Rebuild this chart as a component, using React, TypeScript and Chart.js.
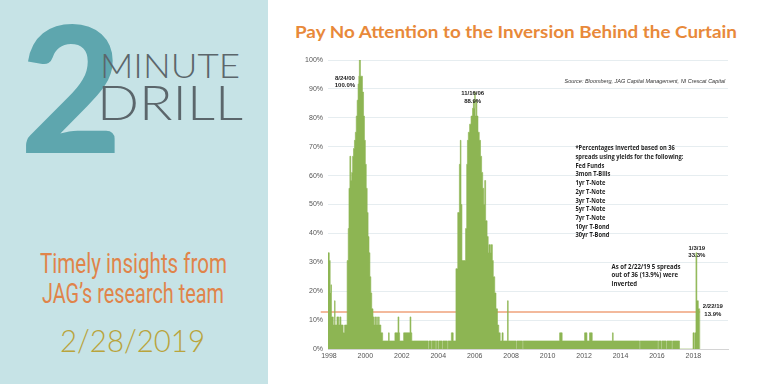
import React, { useEffect, useRef } from "react";
import { Chart, registerables } from "chart.js";

Chart.register(...registerables);

// ---- data (x in the chart's axis-year units, y in % of spreads inverted) ----
const stepYears = [
  1997.95, 1998.02, 1998.07, 1998.11, 1998.14, 1998.24, 1998.31, 1998.34, 1998.44, 1998.54, 1998.6, 1998.66, 1998.78, 1998.86,
  1999.0, 1999.06, 1999.1, 1999.15, 1999.2, 1999.25, 1999.3, 1999.35, 1999.4, 1999.45, 1999.5, 1999.55, 1999.6, 1999.64, 1999.67, 1999.73, 1999.78, 1999.84, 1999.9, 1999.95,
  2000.0, 2000.05, 2000.1, 2000.15, 2000.2, 2000.25, 2000.3, 2000.35, 2000.42, 2000.47, 2000.52, 2000.57, 2000.62, 2000.66, 2000.72, 2000.76, 2000.85, 2000.95,
  2001.27, 2001.31, 2001.62, 2001.79, 2001.84, 2001.88, 2002.1, 2002.45, 2002.5, 2002.55, 2002.65,
  2003.44, 2003.48, 2003.62, 2003.66, 2003.86, 2003.9, 2004.0, 2004.04, 2004.22, 2004.26, 2004.5, 2004.54, 2004.72, 2004.82,
  2004.97, 2005.07, 2005.16, 2005.21, 2005.25, 2005.3, 2005.4, 2005.5, 2005.56, 2005.6, 2005.65, 2005.72, 2005.8, 2005.88, 2005.93, 2005.96,
  2006.0, 2006.03, 2006.08, 2006.12, 2006.18, 2006.25, 2006.32, 2006.38, 2006.44, 2006.5, 2006.55, 2006.6, 2006.68, 2006.74, 2006.78, 2006.86, 2006.9, 2006.97,
  2007.02, 2007.1, 2007.17, 2007.25, 2007.32, 2007.4, 2007.5, 2007.56, 2007.8, 2007.84,
  2008.27, 2008.31, 2008.62, 2008.66, 2010.66, 2010.8, 2012.03, 2012.16, 2012.3, 2012.45, 2013.56, 2013.6,
  2015.04, 2015.08, 2016.05, 2016.09, 2016.23, 2016.27, 2016.5, 2016.54, 2016.82, 2016.86, 2017.24,
  2017.98, 2018.04, 2018.08, 2018.14, 2018.19, 2018.27, 2018.35,
];

const inversionPct = [
  33.3, 30.6, 19.4, 22.2, 11.1, 8.3, 16.7, 8.3, 11.1, 8.3, 11.1, 8.3, 5.6, 8.3,
  30.6, 41.7, 55.6, 66.7, 58.3, 61.1, 66.7, 69.4, 72.2, 75, 80.6, 86.1, 91.7, 94.4, 100, 94.4, 94.4, 88.9, 80.6, 72.2,
  63.9, 55.6, 47.2, 38.9, 33.3, 25, 19.4, 13.9, 11.1, 8.3, 11.1, 8.3, 11.1, 8.3, 11.1, 8.3, 5.6, 2.8,
  5.6, 2.8, 5.6, 11.1, 5.6, 2.8, 5.6, 11.1, 5.6, 2.8, 2.8,
  0, 2.8, 0, 2.8, 0, 2.8, 0, 2.8, 0, 2.8, 0, 2.8, 5.6, 2.8,
  27.8, 47.2, 63.9, 72.2, 50, 30.6, 30.6, 41.7, 63.9, 72.2, 75, 77.8, 80.6, 83.3, 86.1, 83.3,
  88.9, 80.6, 86.1, 80.6, 75, 72.2, 66.7, 61.1, 55.6, 50, 58.3, 44.4, 38.9, 33.3, 36.1, 33.3, 36.1, 30.6,
  25, 19.4, 13.9, 8.3, 5.6, 2.8, 5.6, 2.8, 16.7, 2.8,
  0, 2.8, 0, 2.8, 5.6, 2.8, 5.6, 2.8, 5.6, 2.8, 5.6, 2.8,
  0, 2.8, 0, 2.8, 0, 2.8, 0, 2.8, 0, 2.8, 0,
  5.6, 0, 5.6, 33.3, 16.7, 13.9, 0,
];

const tickYears = [1998, 2000, 2002, 2004, 2006, 2008, 2010, 2012, 2014, 2016, 2018];
const xRange = [1997.95, 2019.9];
const yRange = [0, 100];
const thresholdPct = 12.8;
const thresholdSpan = [1997.55, 2018.37];

const chartTitle = "Pay No Attention to the Inversion Behind the Curtain";
const sourceNote = "Source: Bloomberg, JAG Capital Management, NI Crescat Capital";
const footnoteLines = [
  "*Percentages inverted based on 36",
  "spreads using yields for the following:",
  "Fed Funds",
  "3mon T-Bills",
  "1yr T-Note",
  "2yr T-Note",
  "3yr T-Note",
  "5yr T-Note",
  "7yr T-Note",
  "10yr T-Bond",
  "30yr T-Bond",
];
const asOfLines = ["As of 2/22/19 5 spreads", "out of 36 (13.9%) were", "inverted"];
const peak2000Lines = ["8/24/00", "100.0%"];
const peak2006Lines = ["11/16/06", "88.9%"];
const spike2019Lines = ["1/3/19", "33.3%"];
const latestLines = ["2/22/19", "13.9%"];

const GREEN = "#8db553";
const RED = "#e8743b";
const SANS = "'Liberation Sans', Arial, sans-serif";

type Note = {
  x: number;
  y: number;
  lines: string[];
  font: string;
  align: CanvasTextAlign;
  lineHeight: number;
  color: string;
  fitWidth?: number;
};

const notes: Note[] = [
  { x: 1998.88, y: 93.7, lines: peak2000Lines, font: `bold 6px ${SANS}`, align: "center", lineHeight: 6.8, color: "#222" },
  { x: 2005.89, y: 88.5, lines: peak2006Lines, font: `bold 6px ${SANS}`, align: "center", lineHeight: 8.3, color: "#222" },
  { x: 2018.19, y: 35.0, lines: spike2019Lines, font: `bold 6px ${SANS}`, align: "center", lineHeight: 7.4, color: "#222" },
  { x: 2019.07, y: 14.6, lines: latestLines, font: `bold 6px ${SANS}`, align: "center", lineHeight: 7.6, color: "#222" },
  { x: 2011.53, y: 69.4, lines: footnoteLines, font: `bold 7.2px 'Open Sans', ${SANS}`, align: "left", lineHeight: 8.67, color: "#1e1e1e", fitWidth: 108 },
  { x: 2013.51, y: 28.5, lines: asOfLines, font: `bold 7.2px 'Open Sans', ${SANS}`, align: "left", lineHeight: 8.7, color: "#1e1e1e", fitWidth: 69 },
  { x: 2019.75, y: 92.7, lines: [sourceNote], font: `italic 5.5px ${SANS}`, align: "right", lineHeight: 7, color: "#333" },
];

const notesPlugin = {
  id: "textNotes",
  afterDatasetsDraw(chart: any) {
    const { ctx, scales } = chart;
    const xs = scales.x;
    const ys = scales.y;
    ctx.save();
    ctx.textBaseline = "middle";
    for (const n of notes) {
      ctx.font = n.font;
      ctx.fillStyle = n.color;
      ctx.textAlign = n.align;
      const px = xs.getPixelForValue(n.x);
      const py = ys.getPixelForValue(n.y);
      let sx = 1;
      if (n.fitWidth) {
        const widest = Math.max(...n.lines.map((l) => ctx.measureText(l).width));
        sx = n.fitWidth / widest;
      }
      n.lines.forEach((line, i) => {
        ctx.save();
        ctx.translate(px, py + i * n.lineHeight);
        ctx.scale(sx, 1);
        ctx.fillText(line, 0, 0);
        ctx.restore();
      });
    }
    ctx.restore();
  },
};

function InversionChart() {
  const ref = useRef<HTMLCanvasElement | null>(null);
  useEffect(() => {
    if (!ref.current) return;
    const chart = new Chart(ref.current, {
      type: "line",
      data: {
        datasets: [
          {
            data: stepYears.map((x, i) => ({ x, y: inversionPct[i] })),
            stepped: true,
            fill: "origin",
            backgroundColor: GREEN,
            borderColor: GREEN,
            borderWidth: 0.6,
            pointRadius: 0,
          } as any,
          {
            data: thresholdSpan.map((x) => ({ x, y: thresholdPct })),
            borderColor: RED,
            borderWidth: 1.2,
            pointRadius: 0,
            fill: false,
            clip: false,
          } as any,
        ],
      },
      options: {
        animation: false,
        responsive: true,
        maintainAspectRatio: false,
        layout: { padding: { left: 18, right: 40, top: 60, bottom: 15 } },
        plugins: { legend: { display: false }, tooltip: { enabled: false } },
        scales: {
          x: {
            type: "linear",
            min: xRange[0],
            max: xRange[1],
            afterBuildTicks: (s: any) => {
              s.ticks = tickYears.map((v) => ({ value: v }));
            },
            afterFit: (s: any) => {
              s.height = 20;
            },
            ticks: {
              callback: (v: any) => String(v),
              autoSkip: false,
              maxRotation: 0,
              minRotation: 0,
              padding: 3,
              color: "#555",
              font: { size: 7, family: SANS },
            },
            grid: { display: false, drawTicks: false },
            border: { display: true, color: "#d4d4d4", width: 1 },
          },
          y: {
            min: yRange[0],
            max: yRange[1],
            afterFit: (s: any) => {
              s.width = 40;
            },
            ticks: {
              stepSize: 10,
              callback: (v: any) => `${v}%`,
              padding: 5,
              color: "#555",
              font: { size: 7, family: SANS },
            },
            grid: { color: "#e6edf0", drawTicks: false, lineWidth: 1 },
            border: { display: false },
          },
        },
      } as any,
      plugins: [notesPlugin],
    });
    return () => chart.destroy();
  }, []);
  return <canvas ref={ref} />;
}

export default function App() {
  return (
    <div
      style={{
        position: "fixed",
        left: 0,
        top: 0,
        width: 768,
        height: 384,
        background: "#ffffff",
        overflow: "hidden",
      }}
    >
      <svg width={768} height={384} style={{ position: "absolute", left: 0, top: 0 }}>
        <rect x={0} y={0} width={268} height={384} fill="#c6e3e6" />
        <text x={20} y={153} fontFamily="Lato" fontWeight={900} fontSize={176} fill="#5ea6ae">
          2
        </text>
        <text x={100} y={78} fontFamily="Lato" fontWeight={300} fontSize={34} fill="#5b666b" textLength={140} lengthAdjust="spacingAndGlyphs">
          MINUTE
        </text>
        <text x={97} y={120} fontFamily="Lato" fontWeight={300} fontSize={48} fill="#5b666b" textLength={146} lengthAdjust="spacingAndGlyphs">
          DRILL
        </text>
        <text x={40} y={272.7} fontFamily="'Liberation Sans Narrow', Roboto, sans-serif" fontSize={28} fill="#e0844a" textLength={187} lengthAdjust="spacingAndGlyphs">
          Timely insights from
        </text>
        <text x={42} y={303} fontFamily="'Liberation Sans Narrow', Roboto, sans-serif" fontSize={28} fill="#e0844a" textLength={182} lengthAdjust="spacingAndGlyphs">
          JAG’s research team
        </text>
        <text x={60} y={351.5} fontFamily="Lato" fontWeight={300} fontSize={31} fill="#b9a43c" textLength={145} lengthAdjust="spacingAndGlyphs">
          2/28/2019
        </text>
        <text x={295} y={37.5} fontFamily="Lato" fontWeight={700} fontSize={17.5} fill="#e8893a" textLength={442} lengthAdjust="spacingAndGlyphs">
          {chartTitle}
        </text>
      </svg>
      <div style={{ position: "absolute", left: 270, top: 0, width: 498, height: 384 }}>
        <InversionChart />
      </div>
    </div>
  );
}
